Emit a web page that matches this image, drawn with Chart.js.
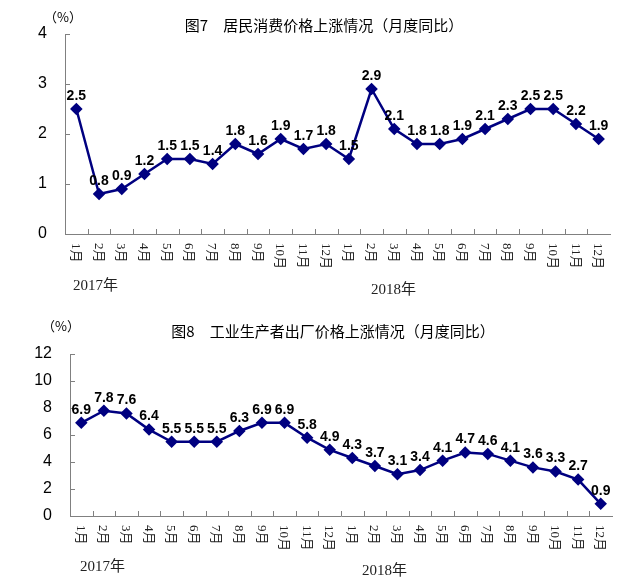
<!DOCTYPE html>
<html>
<head>
<meta charset="utf-8">
<script src="https://cdn.jsdelivr.net/npm/chart.js@4.4.0/dist/chart.umd.min.js"></script>
<style>
  body { margin: 0; background: #fff; }
  #wrap { position: relative; width: 642px; height: 585px; }
  canvas { position: absolute; left: 0; }
</style>
</head>
<body>
<div id="wrap">
  <canvas id="cpi-chart" width="642" height="300" style="top:0"></canvas>
  <canvas id="ppi-chart" width="642" height="285" style="top:300px"></canvas>
</div>
<script>
const months = ["1月","2月","3月","4月","5月","6月","7月","8月","9月","10月","11月","12月",
                "1月","2月","3月","4月","5月","6月","7月","8月","9月","10月","11月","12月"];
const years = ["2017年", "2018年"];

const cpiValues = [2.5,0.8,0.9,1.2,1.5,1.5,1.4,1.8,1.6,1.9,1.7,1.8,
                   1.5,2.9,2.1,1.8,1.8,1.9,2.1,2.3,2.5,2.5,2.2,1.9];
const ppiValues = [6.9,7.8,7.6,6.4,5.5,5.5,5.5,6.3,6.9,6.9,5.8,4.9,
                   4.3,3.7,3.1,3.4,4.1,4.7,4.6,4.1,3.6,3.3,2.7,0.9];

const cpiTitle = "图7　居民消费价格上涨情况（月度同比）";
const ppiTitle = "图8　工业生产者出厂价格上涨情况（月度同比）";
const unitLabel = "（%）";

const lineColor = "#000080";
const axisColor = "#808080";
const sansFont = '"Liberation Sans", Arial, "Noto Sans CJK SC", sans-serif';
const serifFont = '"Liberation Serif", "Times New Roman", "Noto Sans CJK SC", serif';
const cjkFont = '"Noto Sans CJK SC", sans-serif';

// draws value labels, inward ticks, rotated month labels, titles
const decorPlugin = {
  id: "decor",
  afterDraw(chart, args, opts) {
    const ctx = chart.ctx;
    const x = chart.scales.x;
    const y = chart.scales.y;
    const area = chart.chartArea;
    ctx.save();

    // inward ticks
    ctx.strokeStyle = axisColor;
    ctx.lineWidth = 1;
    ctx.beginPath();
    y.ticks.forEach((t) => {
      const py = Math.round(y.getPixelForValue(t.value)) + 0.5;
      ctx.moveTo(area.left, py);
      ctx.lineTo(area.left + 5, py);
    });
    for (let i = 1; i < months.length; i++) {
      const px = Math.round((x.getPixelForValue(i - 1) + x.getPixelForValue(i)) / 2) + 0.5;
      ctx.moveTo(px, area.bottom);
      ctx.lineTo(px, area.bottom - 5);
    }
    ctx.stroke();

    // value labels
    const meta = chart.getDatasetMeta(0);
    const values = chart.data.datasets[0].data;
    ctx.fillStyle = "#000";
    ctx.font = "bold 14px " + sansFont;
    ctx.textAlign = "center";
    ctx.textBaseline = "middle";
    meta.data.forEach((pt, i) => {
      ctx.fillText(values[i].toFixed(1), pt.x, pt.y - 13);
    });

    // month labels, rotated clockwise
    ctx.fillStyle = "#222";
    ctx.font = "13px " + serifFont;
    ctx.textAlign = "left";
    months.forEach((m, i) => {
      ctx.save();
      ctx.translate(x.getPixelForValue(i) - 1, area.bottom + 9);
      ctx.rotate(Math.PI / 2);
      ctx.fillText(m, 0, 0);
      ctx.restore();
    });

    // year labels
    ctx.font = "15px " + serifFont;
    ctx.textAlign = "left";
    ctx.fillText(years[0], opts.yearX[0], opts.yearY[0]);
    ctx.fillText(years[1], opts.yearX[1], opts.yearY[1]);

    // title and unit
    ctx.fillStyle = "#000";
    ctx.font = "15px " + cjkFont;
    ctx.textAlign = "center";
    ctx.fillText(opts.title, opts.titleX, opts.titleY);
    ctx.font = "13px " + cjkFont;
    ctx.textAlign = "left";
    ctx.fillText(unitLabel, opts.unitX, opts.unitY);
    ctx.restore();
  },
};

const drawLineChart = (canvasId, myData, cfg) => {
  const ctx = document.querySelector(canvasId);
  return new Chart(ctx, {
    type: "line",
    data: {
      labels: months,
      datasets: [
        {
          data: myData,
          borderColor: lineColor,
          backgroundColor: lineColor,
          borderWidth: 2.5,
          pointStyle: "rectRot",
          pointRadius: 4.5,
          pointBackgroundColor: lineColor,
          pointBorderColor: lineColor,
          tension: 0,
        },
      ],
    },
    options: {
      responsive: false,
      animation: false,
      layout: { padding: { top: cfg.top, right: cfg.right, left: 0, bottom: 0 } },
      plugins: {
        legend: { display: false },
        tooltip: { enabled: false },
        decor: cfg.decor,
      },
      scales: {
        x: {
          offset: true,
          grid: { display: false },
          border: { display: true, color: axisColor, width: 1 },
          ticks: { display: false },
          afterFit: (scale) => { scale.height = cfg.xHeight; },
        },
        y: {
          min: 0,
          max: cfg.max,
          ticks: {
            stepSize: cfg.step,
            padding: cfg.tickPad,
            color: "#000",
            font: { family: sansFont, size: 16 },
          },
          grid: { display: false, drawTicks: false },
          border: { display: true, color: axisColor, width: 1 },
          afterFit: (scale) => { scale.width = cfg.yWidth; },
        },
      },
    },
    plugins: [decorPlugin],
  });
};

drawLineChart("#cpi-chart", cpiValues, {
  top: 34, right: 32, xHeight: 66, yWidth: 65, max: 4, step: 1, tickPad: 18,
  decor: {
    title: cpiTitle, titleX: 324, titleY: 25,
    unitX: 44, unitY: 17,
    yearX: [73, 371], yearY: [286, 290],
  },
});

drawLineChart("#ppi-chart", ppiValues, {
  top: 54, right: 30, xHeight: 69, yWidth: 70, max: 12, step: 2, tickPad: 18,
  decor: {
    title: ppiTitle, titleX: 333, titleY: 31,
    unitX: 42, unitY: 26,
    yearX: [80, 362], yearY: [267, 271],
  },
});
</script>
</body>
</html>
